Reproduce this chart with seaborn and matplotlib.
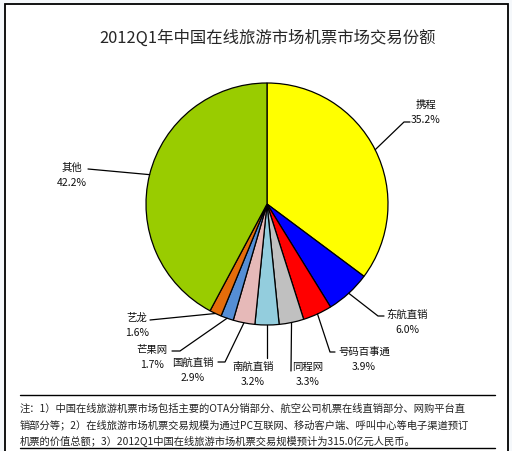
import numpy as np
import matplotlib
matplotlib.use("Agg")
import matplotlib.pyplot as plt
import seaborn as sns

# 数据（顺时针，从 12 点方向开始）
names = ["携程", "东航直销", "号码百事通", "同程网", "南航直销", "国航直销", "芒果网", "艺龙", "其他"]
shares = [35.2, 6.0, 3.9, 3.3, 3.2, 2.9, 1.7, 1.6, 42.2]
colors = ["#FFFF00", "#0000FF", "#FF0000", "#C0C0C0", "#93CDDD",
          "#E6B9B8", "#558ED5", "#E46C0A", "#99CC00"]

title = "2012Q1年中国在线旅游市场机票市场交易份额"
notes = [
    "注：1）中国在线旅游机票市场包括主要的OTA分销部分、航空公司机票在线直销部分、网购平台直",
    "销部分等；2）在线旅游市场机票交易规模为通过PC互联网、移动客户端、呼叫中心等电子渠道预订",
    "机票的价值总额；3）2012Q1中国在线旅游市场机票交易规模预计为315.0亿元人民币。",
]

# 标签布局（像素坐标）：文字中心 x、名称行 y、引导线折点
label_pos = {
    "携程": (426, 105, [(404, 123), (410, 123)]),
    "东航直销": (407, 315, [(378, 317), (384, 317)]),
    "号码百事通": (364, 352, [(330, 353), (335, 353)]),
    "同程网": (308, 367, [(291, 372)]),
    "南航直销": (253, 367, [(267, 359)]),
    "国航直销": (193, 363, [(225, 363), (218, 363)]),
    "芒果网": (152, 350, [(180, 352), (172, 352)]),
    "艺龙": (137, 318, [(150, 321)]),
    "其他": (72, 168, [(88, 170)]),
}

sns.set_style("white")
plt.rcParams["font.family"] = ["Noto Sans CJK SC", "DejaVu Sans"]

W, H = 512, 452
fig = plt.figure(figsize=(W / 100, H / 100), dpi=100)
fig.patch.set_facecolor("#F5F8FB")
ax = fig.add_axes([0, 0, 1, 1])

# 外框
ax.add_patch(plt.Rectangle((5, 5), 503, 460, facecolor="white", edgecolor="black", lw=1.3, zorder=0))

# y 轴向下，startangle=-90 即为 12 点方向，counterclock=True 视觉上为顺时针
wedges, _ = ax.pie(shares, colors=sns.color_palette(colors), startangle=-90, counterclock=True,
                   center=(267, 205), radius=121,
                   wedgeprops=dict(edgecolor="black", linewidth=0.9))
ax.set_xlim(0, W)
ax.set_ylim(H, 0)
ax.set_aspect("equal")
ax.axis("off")

for w, name, val in zip(wedges, names, shares):
    mid = np.deg2rad((w.theta1 + w.theta2) / 2)
    ex = w.center[0] + w.r * np.cos(mid)
    ey = w.center[1] + w.r * np.sin(mid)
    cx, cy, path = label_pos[name]
    xs = [ex] + [p[0] for p in path]
    ys = [ey] + [p[1] for p in path]
    ax.plot(xs, ys, color="black", lw=0.9, zorder=3)
    ax.text(cx, cy, name, ha="center", va="center", fontsize=7.5, color="#111111", zorder=4)
    ax.text(cx, cy + 15, f"{val:.1f}%", ha="center", va="center", fontsize=7.5, color="#111111", zorder=4)

ax.text(268, 38, title, ha="center", va="center", fontsize=11.8, fontweight="medium")

# 注释区
ax.plot([20, 495], [396, 396], color="black", lw=1)
ax.plot([20, 495], [449, 449], color="black", lw=1)
for i, line in enumerate(notes):
    ax.text(20, 409 + 16 * i, line, ha="left", va="center", fontsize=7.4, color="#222222")

fig.savefig("out.png", dpi=100, facecolor=fig.get_facecolor())
